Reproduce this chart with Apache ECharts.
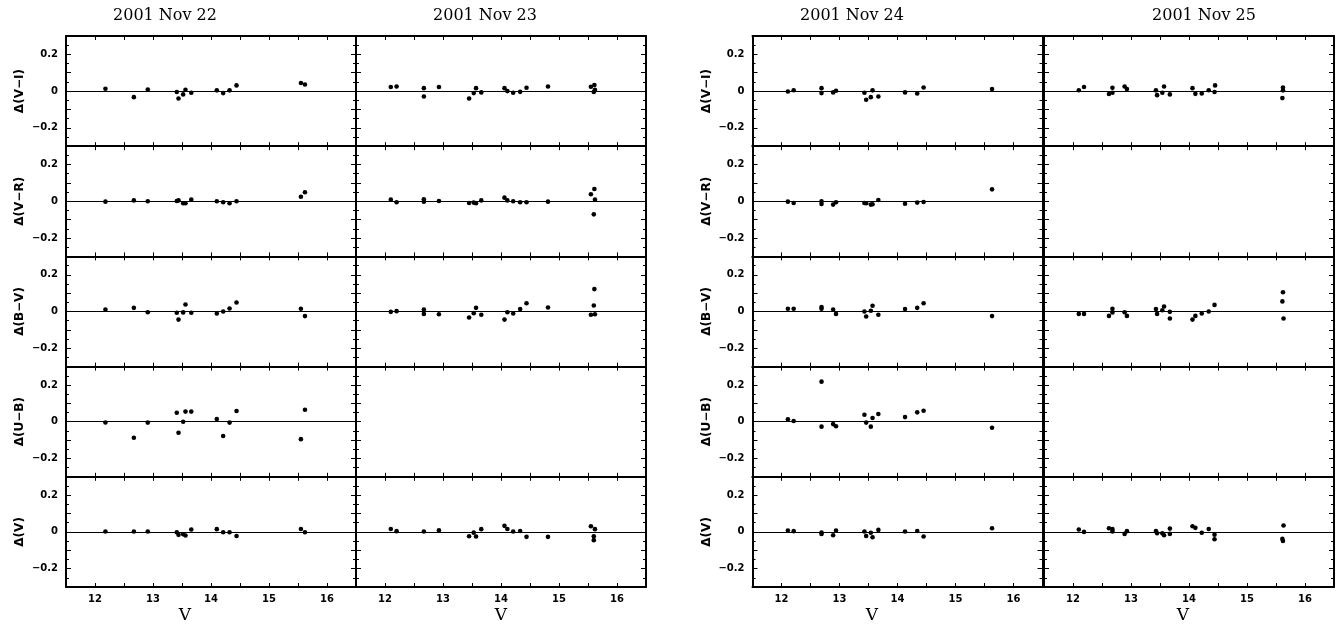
<!DOCTYPE html>
<html>
<head>
<meta charset="utf-8">
<script src="https://cdn.jsdelivr.net/npm/echarts@6/dist/echarts.min.js"></script>
<style>
html,body{margin:0;padding:0;background:#fff;}
#chart{width:1339px;height:625px;}
</style>
</head>
<body>
<div id="chart"></div>
<script>
// ---- Data ----
const nightTitles = ['2001 Nov 22', '2001 Nov 23', '2001 Nov 24', '2001 Nov 25'];
const rowLabels = ['Δ(V−I)', 'Δ(V−R)', 'Δ(B−V)', 'Δ(U−B)', 'Δ(V)'];
const xTickValues = [12, 13, 14, 15, 16];
const yTickLabels = ['−0.2', '0', '0.2'];

// Nov 22
const nov22_mag = [12.18,12.67,12.91,13.41,13.44,13.52,13.56,13.66,14.10,14.21,14.32,14.44,15.55,15.62];
const nov22_VI = [0.013,-0.033,0.009,-0.005,-0.040,-0.018,0.007,-0.009,0.004,-0.011,0.004,0.031,0.044,0.036];
const nov22_VR = [-0.002,0.005,0.000,0.002,0.005,-0.011,-0.011,0.009,0.000,-0.005,-0.011,0.000,0.025,0.049];
const nov22_BV = [0.011,0.020,-0.004,-0.007,-0.044,-0.005,0.038,-0.007,-0.011,0.000,0.016,0.049,0.015,-0.025];
const nov22_UB = [-0.004,-0.087,-0.005,0.049,-0.060,0.000,0.055,0.055,0.015,-0.078,-0.005,0.058,-0.095,0.065];
const nov22_V  = [0.002,0.002,0.002,-0.002,-0.016,-0.013,-0.020,0.013,0.015,-0.002,-0.002,-0.022,0.016,-0.002];

// Nov 23
const nov23_magColor = [12.10,12.20,12.67,12.67,12.93,13.45,13.53,13.57,13.66,14.06,14.11,14.21,14.33,14.44,14.81,15.55,15.61,15.62,15.60];
const nov23_VI = [0.022,0.025,0.016,-0.029,0.022,-0.040,-0.011,0.016,-0.007,0.016,0.000,-0.009,-0.004,0.018,0.025,0.024,0.033,0.007,-0.005];
const nov23_VR = [0.009,-0.005,0.011,-0.002,0.002,-0.009,-0.007,-0.011,0.005,0.020,0.005,0.000,-0.005,-0.005,-0.002,0.038,0.067,0.009,-0.071];
const nov23_BV = [-0.002,0.002,0.011,-0.013,-0.015,-0.033,-0.009,0.020,-0.018,-0.044,-0.004,-0.011,0.013,0.045,0.022,-0.018,0.122,-0.015,0.033];
const nov23_magV = [12.10,12.20,12.67,12.93,13.45,13.53,13.57,13.66,14.06,14.11,14.21,14.33,14.44,14.81,15.55,15.62,15.60,15.60];
const nov23_V  = [0.016,0.004,0.002,0.009,-0.024,-0.004,-0.025,0.015,0.033,0.016,0.002,0.005,-0.027,-0.027,0.031,0.015,-0.024,-0.045];

// Nov 24
const nov24_mag = [12.11,12.21,12.69,12.69,12.89,12.94,13.43,13.46,13.54,13.57,13.67,14.13,14.34,14.45,15.63];
const nov24_VI = [-0.002,0.005,0.016,-0.011,-0.007,0.002,-0.009,-0.047,-0.033,0.004,-0.029,-0.007,-0.013,0.020,0.011];
const nov24_VR = [-0.002,-0.009,0.000,-0.015,-0.018,-0.005,-0.009,-0.011,-0.018,-0.016,0.007,-0.013,-0.007,-0.004,0.065];
const nov24_BV = [0.015,0.015,0.024,0.015,0.011,-0.013,0.000,-0.027,0.004,0.031,-0.018,0.013,0.020,0.045,-0.025];
const nov24_UB = [0.013,0.004,0.218,-0.027,-0.013,-0.025,0.038,-0.005,-0.027,0.020,0.042,0.025,0.051,0.060,-0.033];
const nov24_V  = [0.007,0.004,-0.004,-0.011,-0.018,0.007,0.002,-0.022,-0.005,-0.029,0.011,0.002,0.005,-0.025,0.020];

// Nov 25
const nov25_magVI = [12.10,12.19,12.62,12.68,12.68,12.89,12.93,13.43,13.45,13.54,13.57,13.67,14.06,14.11,14.22,14.34,14.44,14.45,15.62,15.62,15.61];
const nov25_VI = [0.005,0.022,-0.016,-0.009,0.018,0.025,0.011,0.004,-0.022,-0.009,0.025,-0.018,0.016,-0.015,-0.013,0.005,-0.005,0.031,0.020,0.004,-0.038];
const nov25_magBV = [12.10,12.19,12.62,12.68,12.68,12.89,12.93,13.43,13.45,13.54,13.57,13.67,13.67,14.06,14.11,14.22,14.34,14.44,15.62,15.61,15.63];
const nov25_BV = [-0.013,-0.013,-0.024,-0.005,0.015,-0.004,-0.024,0.013,-0.013,0.007,0.027,-0.002,-0.038,-0.044,-0.024,-0.011,0.000,0.036,0.105,0.055,-0.038];
const nov25_magV = [12.10,12.19,12.62,12.68,12.68,12.89,12.93,13.43,13.45,13.54,13.57,13.67,13.67,14.06,14.11,14.22,14.34,14.44,14.44,15.63,15.61,15.62];
const nov25_V  = [0.013,0.000,0.020,0.015,0.002,-0.011,0.004,0.005,-0.007,-0.007,-0.018,0.018,-0.011,0.031,0.022,-0.005,0.016,-0.015,-0.040,0.035,-0.038,-0.049];

// panels[col][row] = [magnitudes, deltas] or null (empty panel)
const panels = [
  [[nov22_mag,nov22_VI],[nov22_mag,nov22_VR],[nov22_mag,nov22_BV],[nov22_mag,nov22_UB],[nov22_mag,nov22_V]],
  [[nov23_magColor,nov23_VI],[nov23_magColor,nov23_VR],[nov23_magColor,nov23_BV],null,[nov23_magV,nov23_V]],
  [[nov24_mag,nov24_VI],[nov24_mag,nov24_VR],[nov24_mag,nov24_BV],[nov24_mag,nov24_UB],[nov24_mag,nov24_V]],
  [[nov25_magVI,nov25_VI],null,[nov25_magBV,nov25_BV],null,[nov25_magV,nov25_V]]
];

// ---- Layout ----
const colLeft = [66, 356, 752.5, 1044];
const colWidth = 290;
const rowTop0 = 36;
const rowHeight = 110.2;
const titleX = [165, 485, 852, 1204];
const vLabelX = [185, 501, 872, 1183];

const grids = [], xAxes = [], yAxes = [], series = [];
const black = '#000';
const tickFont = {color: black, fontFamily: 'DejaVu Sans', fontWeight: 'bold', fontSize: 10};

function yFmt(v) {
  if (Math.abs(v - 0.2) < 1e-6) return yTickLabels[2];
  if (Math.abs(v) < 1e-6) return yTickLabels[1];
  if (Math.abs(v + 0.2) < 1e-6) return yTickLabels[0];
  return '';
}
function xFmt(v) {
  for (const t of xTickValues) if (Math.abs(v - t) < 1e-6) return String(t);
  return '';
}

let gi = 0;
for (let c = 0; c < 4; c++) {
  for (let r = 0; r < 5; r++) {
    grids.push({left: colLeft[c], top: rowTop0 + r * rowHeight, width: colWidth, height: rowHeight,
                containLabel: false, outerBoundsMode: 'none', show: false});
    const showX = r === 4;
    const showY = (c === 0 || c === 2);
    ['bottom', 'top'].forEach((pos) => {
      xAxes.push({
        type: 'value', gridIndex: gi, position: pos, min: 11.5, max: 16.5, interval: 0.5,
        axisLine: {show: true, onZero: false, lineStyle: {color: black, width: 2}},
        axisTick: {show: true, inside: true, length: 4, lineStyle: {color: black, width: 1}},
        axisLabel: Object.assign({show: showX && pos === 'bottom', formatter: xFmt, margin: 7,
                                  showMinLabel: true, showMaxLabel: true}, tickFont),
        splitLine: {show: false}
      });
    });
    ['left', 'right'].forEach((pos) => {
      const ax = {
        type: 'value', gridIndex: gi, position: pos, min: -0.3, max: 0.3, interval: 0.1,
        axisLine: {show: true, onZero: false, lineStyle: {color: black, width: 2}},
        axisTick: {show: true, inside: true, length: 5, lineStyle: {color: black, width: 1}},
        minorTick: {show: true, splitNumber: 2, length: 3, lineStyle: {color: black, width: 1}},
        axisLabel: Object.assign({show: showY && pos === 'left', formatter: yFmt, margin: 8}, tickFont),
        splitLine: {show: false}
      };
      if (showY && pos === 'left') {
        ax.name = rowLabels[r];
        ax.nameLocation = 'middle';
        ax.nameRotate = 90;
        ax.nameGap = 40;
        ax.nameTextStyle = {color: black, fontFamily: 'DejaVu Sans', fontWeight: 'bold', fontSize: 12};
      }
      yAxes.push(ax);
    });
    const p = panels[c][r];
    if (p) {
      const [mags, deltas] = p;
      series.push({
        type: 'scatter', xAxisIndex: gi * 2, yAxisIndex: gi * 2,
        data: mags.map((m, i) => [m, deltas[i]]),
        symbol: 'circle', symbolSize: 4.6,
        itemStyle: {color: black, opacity: 1},
        silent: true,
        markLine: {silent: true, symbol: 'none', animation: false,
                   label: {show: false},
                   lineStyle: {color: black, width: 1, type: 'solid'},
                   data: [{yAxis: 0}]}
      });
    }
    gi++;
  }
}

const graphics = [];
for (let c = 0; c < 4; c++) {
  graphics.push({type: 'text', x: titleX[c], y: 16,
    style: {text: nightTitles[c], fill: black, font: '16px "DejaVu Serif"', textAlign: 'center', textVerticalAlign: 'middle'}});
  graphics.push({type: 'text', x: vLabelX[c], y: 616,
    style: {text: 'V', fill: black, font: '17px "DejaVu Serif"', textAlign: 'center', textVerticalAlign: 'middle'}});
}

const chart = echarts.init(document.getElementById('chart'), null, {renderer: 'canvas'});
chart.setOption({
  animation: false,
  backgroundColor: '#fff',
  grid: grids,
  xAxis: xAxes,
  yAxis: yAxes,
  series: series,
  graphic: graphics
});
</script>
</body>
</html>
